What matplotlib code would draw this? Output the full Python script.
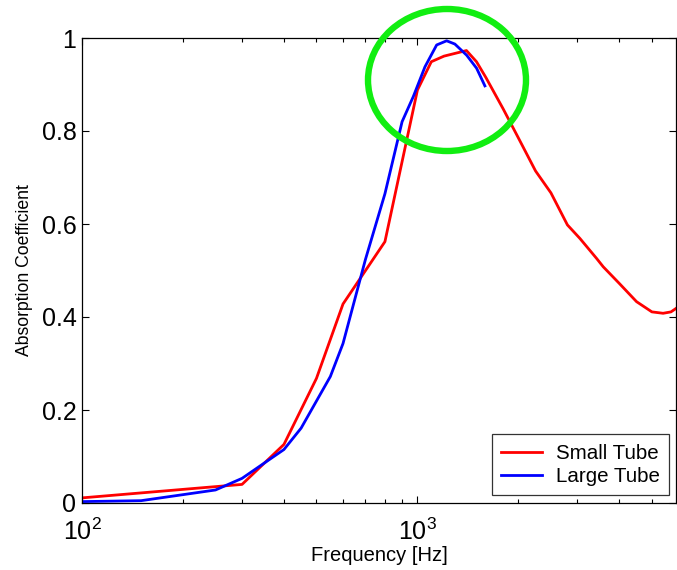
import matplotlib
matplotlib.use("Agg")
import matplotlib.pyplot as plt
from matplotlib.patches import Ellipse
from matplotlib.ticker import FixedLocator, FuncFormatter, LogLocator, NullFormatter

plt.rcParams['font.family'] = ['Liberation Sans', 'DejaVu Sans']
plt.rcParams['mathtext.fontset'] = 'custom'
plt.rcParams['mathtext.rm'] = 'Liberation Sans'
plt.rcParams['mathtext.it'] = 'Liberation Sans'

# Small tube data
small_freq = [100, 300, 400, 500, 600, 800, 1000, 1100, 1200, 1400, 1500, 1600,
              1800, 2000, 2250, 2500, 2800, 3050, 3200, 3420, 3580, 4000, 4500,
              5000, 5400, 5700, 6000]
small_abs = [0.011, 0.040, 0.126, 0.268, 0.428, 0.562, 0.888, 0.949, 0.961, 0.973,
             0.949, 0.915, 0.848, 0.785, 0.714, 0.667, 0.598, 0.569, 0.551, 0.526,
             0.508, 0.472, 0.433, 0.411, 0.408, 0.411, 0.422]

# Large tube data
large_freq = [100, 150, 250, 300, 400, 450, 550, 600, 700, 800, 900, 972, 1053,
              1141, 1222, 1293, 1402, 1501, 1589]
large_abs = [0.003, 0.005, 0.028, 0.053, 0.115, 0.161, 0.272, 0.343, 0.524, 0.665,
             0.82, 0.874, 0.938, 0.985, 0.994, 0.987, 0.963, 0.935, 0.897]

y_ticks = [0, 0.2, 0.4, 0.6, 0.8, 1.0]
y_tick_labels = ['0', '0.2', '0.4', '0.6', '0.8', '1']

W, H = 677, 570
fig = plt.figure(figsize=(W / 100, H / 100), dpi=100)
left, right, top, bottom = 82, 676, 38, 503
ax = fig.add_axes([left / W, (H - bottom) / H, (right - left) / W, (bottom - top) / H])

ax.plot(small_freq, small_abs, color='#ff0000', lw=2.0, label='Small Tube')
ax.plot(large_freq, large_abs, color='#0000ff', lw=2.0, label='Large Tube')

ax.set_xscale('log')
ax.set_xlim(100, 5900)
ax.set_ylim(0, 1)
ax.xaxis.set_major_locator(FixedLocator([100, 1000]))
ax.xaxis.set_minor_locator(LogLocator(base=10, subs=range(2, 10)))
ax.xaxis.set_minor_formatter(NullFormatter())
ax.xaxis.set_major_formatter(FuncFormatter(lambda v, p: {100: r'$10^{2}$', 1000: r'$10^{3}$'}.get(int(round(v)), '')))
ax.set_yticks(y_ticks)
ax.set_yticklabels(y_tick_labels)

ax.tick_params(which='both', direction='in', top=True, right=True, labelsize=18, width=0.8)
ax.tick_params(which='major', length=5)
ax.tick_params(which='minor', length=3)
ax.tick_params(axis='x', pad=11)
ax.tick_params(axis='y', pad=4)
for s in ax.spines.values():
    s.set_linewidth(0.9)

ax.set_xlabel('Frequency [Hz]', fontsize=14.5, labelpad=1)
ax.set_ylabel('Absorption Coefficient', fontsize=12.7, labelpad=6)

leg = ax.legend(loc='lower right', bbox_to_anchor=(0.988, 0.017), fontsize=14.8,
                frameon=True, fancybox=False, handlelength=2.0, handletextpad=0.65,
                borderpad=0.45, labelspacing=0.2, borderaxespad=0)
leg.get_frame().set_edgecolor('black')
leg.get_frame().set_linewidth(0.9)

ell = Ellipse((447 / W, 1 - 80 / H), 158 / W, 142 / H, transform=fig.transFigure,
              fill=False, edgecolor='#11ee11', lw=4.6, clip_on=False)
fig.patches.append(ell)

fig.savefig('out.png', dpi=100)
